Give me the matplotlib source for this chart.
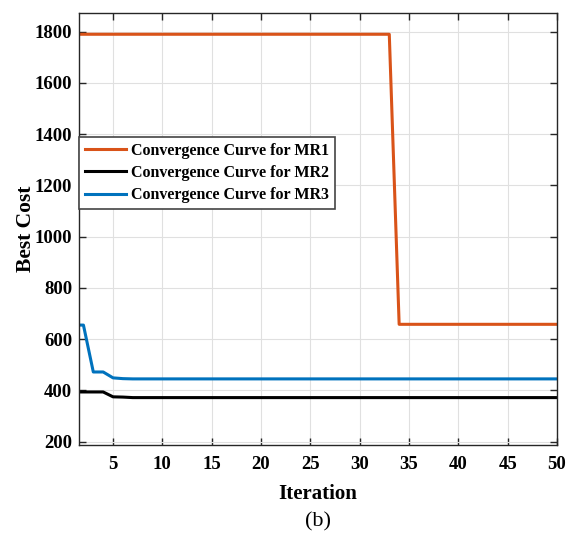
import matplotlib
matplotlib.use("Agg")
import matplotlib.pyplot as plt
import numpy as np

iterations = list(range(1, 51))
mr1 = [1790] * 33 + [658] * 17
mr2 = [394, 394, 394, 394, 375, 374] + [372] * 44
mr3 = [655, 655, 472, 472, 449, 446] + [445] * 44
labels = ["Convergence Curve for MR1", "Convergence Curve for MR2", "Convergence Curve for MR3"]
colors = ["#D95319", "#000000", "#0072BD"]
xticks = [5, 10, 15, 20, 25, 30, 35, 40, 45, 50]
yticks = [200, 400, 600, 800, 1000, 1200, 1400, 1600, 1800]

plt.rcParams['font.family'] = ['Liberation Serif', 'DejaVu Serif']

fig = plt.figure(figsize=(5.69, 5.35), dpi=100)
ax = fig.add_axes([79/569, 1-445/535, (557-79)/569, (445-13)/535])

for ys, lab, c in zip([mr1, mr2, mr3], labels, colors):
    ax.plot(iterations, ys, color=c, lw=2.2, label=lab)

ax.set_xlim(1.55, 50)
ax.set_ylim(187, 1873)
ax.set_xticks(xticks)
ax.set_yticks(yticks)
ax.grid(True, color="#e0e0e0", lw=0.8)
ax.set_axisbelow(True)
ax.tick_params(direction='in', top=True, right=True, length=5, width=1,
               labelsize=13.5, color="#262626", pad=5)
ax.tick_params(axis='x', pad=8)
for lab in ax.get_xticklabels() + ax.get_yticklabels():
    lab.set_fontweight('bold')
for s in ax.spines.values():
    s.set_color("#262626")
    s.set_linewidth(1)

ax.set_xlabel("Iteration", fontsize=15, fontweight='bold', labelpad=8)
ax.set_ylabel("Best Cost", fontsize=15.5, fontweight='bold', labelpad=-1)

leg = ax.legend(loc='upper left', bbox_to_anchor=(0.0, 0.713),
                prop={'weight': 'bold', 'size': 11.5}, fancybox=False,
                edgecolor="#444444", framealpha=1, handlelength=2.6,
                borderpad=0.35, labelspacing=0.4, handletextpad=0.3,
                borderaxespad=0)
leg.get_frame().set_linewidth(1.2)

fig.text((79+557)/2/569, 1-522/535, "(b)", ha='center', va='center', fontsize=16)

fig.savefig("out.png", dpi=100)
